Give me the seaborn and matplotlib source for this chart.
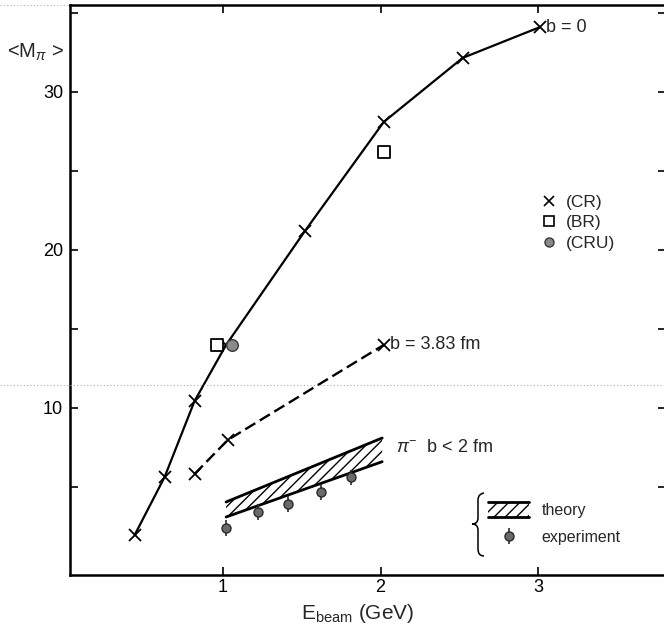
import matplotlib
matplotlib.use("Agg")
import matplotlib.pyplot as plt
from matplotlib.lines import Line2D
from matplotlib.patches import Rectangle, PathPatch
from matplotlib.path import Path
from matplotlib.legend_handler import HandlerBase
import seaborn as sns
import pandas as pd

# Mean pion multiplicity vs. beam energy
# cascade calculation (CR), central collisions b = 0
e_b0 = [0.44, 0.63, 0.82, 1.02, 1.52, 2.02, 2.52, 3.01]
m_b0 = [1.96, 5.63, 10.44, 13.99, 21.2, 28.1, 32.15, 34.1]
# cascade calculation (CR), b = 3.83 fm
e_b383 = [0.82, 1.03, 2.02]
m_b383 = [5.82, 7.97, 13.99]
# (BR) results
e_br = [0.96, 2.02]
m_br = [14.0, 26.2]
# (CRU) result
e_cru = [1.06]
m_cru = [14.0]
# pi- with b < 2 fm: theory band
e_theory = [1.02, 2.01]
m_theory_hi = [4.05, 8.1]
m_theory_lo = [3.1, 6.6]
# pi- with b < 2 fm: experiment
e_exp = [1.02, 1.22, 1.41, 1.62, 1.81]
m_exp = [2.4, 3.4, 3.9, 4.7, 5.6]
m_exp_err = [0.5, 0.5, 0.5, 0.5, 0.5]

x_ticks = [1, 2, 3]
y_ticks = [5, 10, 15, 20, 25, 30, 35]
y_ticklabels = ["", "10", "", "20", "", "30", ""]

sns.set_style("ticks")
plt.rcParams["font.family"] = ["Liberation Sans", "DejaVu Sans"]
plt.rcParams["mathtext.fontset"] = "custom"
plt.rcParams["mathtext.rm"] = "Liberation Sans"
plt.rcParams["mathtext.it"] = "Liberation Sans:italic"
plt.rcParams["hatch.linewidth"] = 1.0

HATCH = "///"


class HandlerBand(HandlerBase):
    """Hatched swatch with solid upper and lower edges."""

    def create_artists(self, legend, orig_handle, xdescent, ydescent,
                       width, height, fontsize, trans):
        x0, y0 = -xdescent, -ydescent
        rect = Rectangle((x0, y0), width, height, facecolor="none",
                         edgecolor="black", hatch=HATCH, lw=0,
                         transform=trans)
        top = Line2D([x0, x0 + width], [y0 + height] * 2, color="black",
                     lw=2.0, transform=trans)
        bot = Line2D([x0, x0 + width], [y0] * 2, color="black", lw=2.0,
                     transform=trans)
        return [rect, top, bot]


fig = plt.figure(figsize=(6.64, 6.25), dpi=100)
ax = fig.add_axes([70 / 664, 50 / 625, 596 / 664, 570 / 625])

df_b0 = pd.DataFrame({"E": e_b0, "M": m_b0})
df_b383 = pd.DataFrame({"E": e_b383, "M": m_b383})

sns.lineplot(data=df_b0, x="E", y="M", ax=ax, color="black", lw=1.6,
             marker="x", markersize=8, markeredgewidth=1.3,
             markeredgecolor="black", sort=False)
sns.lineplot(data=df_b383, x="E", y="M", ax=ax, color="black", lw=1.7,
             linestyle=(0, (5, 2.2)), marker="x", markersize=8,
             markeredgewidth=1.3, markeredgecolor="black", sort=False)

sns.scatterplot(x=e_br, y=m_br, ax=ax, marker="s", s=80, facecolor="white",
                edgecolor="black", linewidth=1.3, zorder=4)
sns.scatterplot(x=e_cru, y=m_cru, ax=ax, marker="o", s=70, color="#8a8a8a",
                edgecolor="#3a3a3a", linewidth=1.0, zorder=4)

# theory band
band = ax.fill_between(e_theory, m_theory_lo, m_theory_hi, facecolor="none",
                       edgecolor="black", hatch=HATCH, linewidth=0,
                       label="theory")
ax.plot(e_theory, m_theory_hi, color="black", lw=2.0)
ax.plot(e_theory, m_theory_lo, color="black", lw=2.0)

# experimental points
exp = ax.errorbar(e_exp, m_exp, yerr=m_exp_err, fmt="o", ms=6.5,
                  mfc="#6a6a6a", mec="#2a2a2a", mew=1.0, ecolor="#2a2a2a",
                  elinewidth=1.2, capsize=0, label="experiment", zorder=5)

# curve annotations
ax.text(3.05, 34.1, "b = 0", fontsize=13, ha="left", va="center")
ax.text(2.06, 14.0, "b = 3.83 fm", fontsize=13, ha="left", va="center")
ax.text(2.1, 7.5, r"$\pi^{-}$  b < 2 fm", fontsize=13, ha="left",
        va="center")

# axes styling
ax.set_xlim(0.03, 3.81)
ax.set_ylim(-0.57, 35.5)
ax.set_xticks(x_ticks)
ax.set_xticklabels([str(t) for t in x_ticks])
ax.set_yticks(y_ticks)
ax.set_yticklabels(y_ticklabels)
ax.tick_params(direction="in", length=6, width=1.2, top=True, right=True,
               labelsize=13, colors="black")
ax.tick_params(axis="x", pad=3)
ax.tick_params(axis="y", pad=5)
for side in ["left", "bottom", "top"]:
    ax.spines[side].set_linewidth(1.8)
    ax.spines[side].set_color("black")
ax.spines["right"].set_visible(False)

ax.set_xlabel(r"E$_{\mathrm{beam}}$ (GeV)", fontsize=15)
ax.xaxis.set_label_coords((358 - 70) / 596, -0.048)
ax.set_ylabel("")
fig.text(36 / 664, 1 - 52 / 625, r"<M$_{\pi}$ >", fontsize=14.5,
         ha="center", va="center")

# model legend
handles = [
    Line2D([], [], marker="x", ls="none", color="black", ms=7, mew=1.2),
    Line2D([], [], marker="s", ls="none", mfc="white", mec="black", ms=7.5,
           mew=1.2),
    Line2D([], [], marker="o", ls="none", mfc="#8a8a8a", mec="#3a3a3a",
           ms=6.5, mew=1.0),
]
leg1 = ax.legend(handles, ["(CR)", "(BR)", "(CRU)"], loc="upper left",
                 bbox_to_anchor=(0.789, 0.667), frameon=False, fontsize=12.5,
                 handlelength=1.0, handletextpad=0.5, borderpad=0,
                 borderaxespad=0, labelspacing=0.3)
ax.add_artist(leg1)

# theory / experiment legend
leg2 = ax.legend([band, exp], ["theory", "experiment"], loc="upper left",
                 bbox_to_anchor=(0.701, 0.128), frameon=False, fontsize=11.5,
                 handlelength=2.6, handleheight=1.1, handletextpad=0.75,
                 borderpad=0, borderaxespad=0, labelspacing=0.7,
                 handler_map={band: HandlerBand()})


# brace grouping the theory / experiment legend (pixel coordinates)
def fig_pt(px, py):
    return (px / 664, 1 - py / 625)


brace_px = [(484, 493), (478, 494), (478, 500),
            (478, 518),
            (478, 524), (472, 524), (478, 524), (478, 530),
            (478, 549),
            (478, 556), (484, 556)]
codes = [Path.MOVETO, Path.CURVE3, Path.CURVE3,
         Path.LINETO,
         Path.CURVE3, Path.CURVE3, Path.CURVE3, Path.CURVE3,
         Path.LINETO,
         Path.CURVE3, Path.CURVE3]
brace = PathPatch(Path([fig_pt(*p) for p in brace_px], codes),
                  transform=fig.transFigure, facecolor="none",
                  edgecolor="black", lw=1.1)
fig.add_artist(brace)

# faint scan lines across the sheet
fig.add_artist(Line2D([0, 1], [1 - 385 / 625, 1 - 385 / 625],
                      transform=fig.transFigure, color="#b0b0b0", lw=0.8,
                      ls=(0, (1, 2))))
fig.add_artist(Line2D([0, 68 / 664], [1 - 5 / 625, 1 - 5 / 625],
                      transform=fig.transFigure, color="#b0b0b0", lw=0.8,
                      ls=(0, (1, 2))))

fig.savefig("out.png", dpi=100)
